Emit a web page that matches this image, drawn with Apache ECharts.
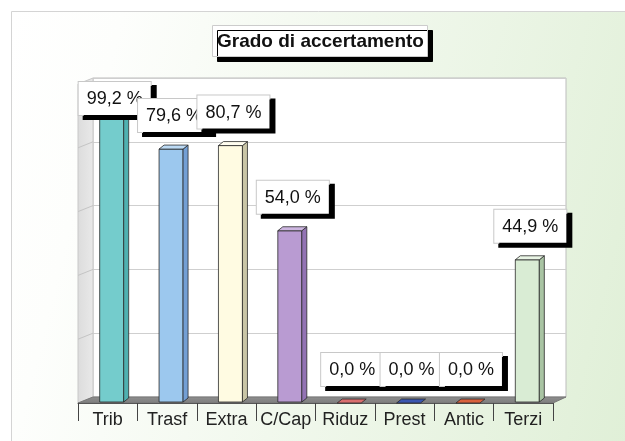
<!DOCTYPE html>
<html>
<head>
<meta charset="utf-8">
<script src="https://cdn.jsdelivr.net/npm/echarts@6/dist/echarts.min.js"></script>
<style>
  html, body { margin: 0; padding: 0; background: #fff; }
  #chart { width: 625px; height: 441px; }
</style>
</head>
<body>
<div id="chart"></div>
<script>
var categories = ['Trib', 'Trasf', 'Extra', 'C/Cap', 'Riduz', 'Prest', 'Antic', 'Terzi'];
var values = [99.2, 79.6, 80.7, 54.0, 0.0, 0.0, 0.0, 44.9];

var frontColors = ['#74cccc', '#9cc8ee', '#fffbe2', '#b99bd2', '#d96f6f', '#3a56b0', '#d9623e', '#d9ecd4'];
var sideColors = ['#4fb0b0', '#739fd4', '#c9c5a6', '#9373b4', '#b24e4e', '#263e8a', '#ad4526', '#a9c4a3'];
var topColors = ['#9adcdc', '#bcdaf4', '#fffdf0', '#cdb6e0', '#d96f6f', '#3a56b0', '#d9623e', '#e8f4e4'];

var FONT = '"Liberation Sans", Arial, sans-serif';

// front plane / back wall
var FRONT = { left: 78, right: 72, top: 84, bottom: 38 };
var BACK = { left: 93, right: 59, top: 78, bottom: 44 };
var W = 625, H = 441;

function fmt(v) {
  return v.toFixed(1).replace('.', ',') + ' %';
}

function renderBar(params, api) {
  var idx = api.value(0);
  var v = api.value(1);
  var top = api.coord([idx, v]);
  var base = api.coord([idx, 0]);
  var cx = top[0];
  var x0 = cx - 8, x1 = cx + 16, dx = 5, dy = 4;
  var yt = top[1], yb = base[1] - 1;
  var edge = '#2a2a2a';
  var children = [];
  if (yb - yt > 0.5) {
    children.push({
      type: 'rect',
      shape: { x: x0, y: yt, width: x1 - x0, height: yb - yt },
      style: { fill: frontColors[idx], stroke: edge, lineWidth: 0.8 }
    });
    children.push({
      type: 'polygon',
      shape: { points: [[x1, yt], [x1 + dx, yt - dy], [x1 + dx, yb - dy], [x1, yb]] },
      style: { fill: sideColors[idx], stroke: edge, lineWidth: 0.8 }
    });
  }
  children.push({
    type: 'polygon',
    shape: { points: [[x0, yt], [x0 + dx, yt - dy], [x1 + dx, yt - dy], [x1, yt]] },
    style: { fill: topColors[idx], stroke: edge, lineWidth: 0.8 }
  });
  return { type: 'group', children: children };
}

function renderLabel(params, api) {
  var idx = api.value(0);
  var v = api.value(1);
  var top = api.coord([idx, v]);
  var bottomY = Math.max(top[1] - 17, 115);
  return {
    type: 'text',
    x: top[0] + 7,
    y: bottomY,
    style: {
      text: fmt(values[idx]),
      font: '18px ' + FONT,
      fill: '#111',
      align: 'center',
      verticalAlign: 'bottom',
      backgroundColor: '#fff',
      borderColor: '#c8c8c8',
      borderWidth: 1,
      padding: [8, 8, 7, 8],
      shadowColor: '#000',
      shadowBlur: 0,
      shadowOffsetX: 5,
      shadowOffsetY: 4
    }
  };
}

// side wall gridlines
var wallLines = [];
for (var k = 1; k < 5; k++) {
  var yb = BACK.top + k * (H - BACK.bottom - BACK.top) / 5;
  wallLines.push({
    type: 'line',
    z: 1,
    shape: { x1: BACK.left, y1: yb, x2: FRONT.left, y2: yb + 6 },
    style: { stroke: '#c4c4c4', lineWidth: 1 }
  });
}

var data = values.map(function (v, i) { return [i, v]; });

var chartDom = document.getElementById('chart');
var myChart = echarts.init(chartDom);
var option = {
  animation: false,
  title: {
    text: 'Grado di accertamento',
    left: 212,
    top: 25,
    padding: [7, 4, 6, 5],
    backgroundColor: '#fff',
    borderColor: '#cccccc',
    borderWidth: 1,
    shadowColor: '#000',
    shadowBlur: 0,
    shadowOffsetX: 5,
    shadowOffsetY: 5,
    textStyle: { fontSize: 19, fontWeight: 'bold', color: '#111', fontFamily: FONT }
  },
  graphic: [
    {
      type: 'rect',
      z: -10,
      shape: { x: 11.5, y: 11.5, width: 700, height: 500 },
      style: {
        fill: new echarts.graphic.LinearGradient(0, 0, 1, 0.35, [
          { offset: 0, color: '#ffffff' },
          { offset: 0.15, color: '#fdfefc' },
          { offset: 1, color: '#dfefd6' }
        ]),
        stroke: '#d4d4d4',
        lineWidth: 1
      }
    },
    {
      type: 'polygon',
      z: 1,
      shape: { points: [[FRONT.left, FRONT.top], [BACK.left, BACK.top], [BACK.left, H - BACK.bottom], [FRONT.left, H - FRONT.bottom]] },
      style: {
        fill: new echarts.graphic.LinearGradient(0, 0, 1, 0, [
          { offset: 0, color: '#dcdcdc' },
          { offset: 1, color: '#e9e9e9' }
        ]),
        stroke: '#c8c8c8',
        lineWidth: 1
      }
    },
    {
      type: 'polygon',
      z: 1,
      shape: { points: [[FRONT.left, H - FRONT.bottom], [BACK.left, H - BACK.bottom], [W - BACK.right, H - BACK.bottom], [W - FRONT.right, H - FRONT.bottom]] },
      style: {
        fill: new echarts.graphic.LinearGradient(0, 0, 0, 1, [
          { offset: 0, color: '#8f8f8f' },
          { offset: 1, color: '#7d7d7d' }
        ]),
        stroke: '#777',
        lineWidth: 1
      }
    }
  ].concat(wallLines),
  grid: [
    { left: FRONT.left, right: FRONT.right, top: FRONT.top, bottom: FRONT.bottom },
    {
      left: BACK.left, right: BACK.right, top: BACK.top, bottom: BACK.bottom,
      show: true, backgroundColor: '#ffffff', borderColor: '#bdbdbd', borderWidth: 1
    }
  ],
  xAxis: [
    {
      type: 'category',
      gridIndex: 0,
      data: categories,
      axisLine: { show: true, lineStyle: { color: '#555', width: 1 } },
      axisTick: { show: true, alignWithLabel: false, interval: 0, length: 18, lineStyle: { color: '#444', width: 1 } },
      axisLabel: { interval: 0, fontSize: 18, color: '#222', fontFamily: FONT, margin: 8 },
      z: 3
    },
    { type: 'value', gridIndex: 1, show: false }
  ],
  yAxis: [
    { type: 'value', gridIndex: 0, min: 0, max: 100, show: false },
    {
      type: 'value', gridIndex: 1, min: 0, max: 100, interval: 20,
      axisLine: { show: false }, axisTick: { show: false }, axisLabel: { show: false },
      splitLine: { lineStyle: { color: '#cfcfcf' } }
    }
  ],
  series: [
    {
      type: 'custom',
      xAxisIndex: 0,
      yAxisIndex: 0,
      z: 5,
      renderItem: renderBar,
      data: data
    },
    {
      type: 'custom',
      xAxisIndex: 0,
      yAxisIndex: 0,
      z: 10,
      renderItem: renderLabel,
      data: data
    }
  ]
};

option && myChart.setOption(option);
</script>
</body>
</html>
